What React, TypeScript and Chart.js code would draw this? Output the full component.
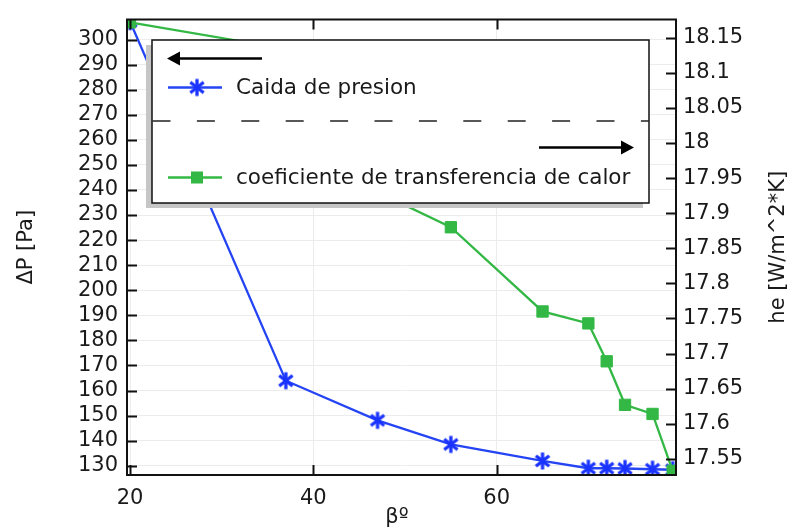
import React, { useEffect, useRef } from 'react';
import { Chart, registerables } from 'chart.js';

Chart.register(...registerables);

// ---- data ----
const betaValues = [20, 37, 47, 55, 65, 70, 72, 74, 77, 79.2];
const pressureDrop = [307.2, 163.9, 148.1, 138.5, 131.9, 129.0, 129.0, 128.9, 128.6, 128.4];
const heCoefficient = [18.172, 18.134, 17.93, 17.88, 17.76, 17.743, 17.689, 17.627, 17.614, 17.533];

const xTicks = [20, 40, 60];
const pressureTicks = [130, 140, 150, 160, 170, 180, 190, 200, 210, 220, 230, 240, 250, 260, 270, 280, 290, 300];
const heTicks = [17.55, 17.6, 17.65, 17.7, 17.75, 17.8, 17.85, 17.9, 17.95, 18, 18.05, 18.1, 18.15];

const xRange = [19.67, 79.56];
const pressureRange = [126.3, 308.0];
const heRange = [17.527, 18.176];

const seriesLabels = ['Caida de presion', 'coeficiente de transferencia de calor'];
const xTitle = 'βº';
const leftTitle = 'ΔP [Pa]';
const rightTitle = 'he [W/m^2*K]';

// ---- styles ----
const FONT_FAMILY = '"DejaVu Sans", Verdana, sans-serif';
const FONT_SIZE = 21;
const LEGEND_FONT_SIZE = 21.5;
const TEXT = '#1a1a1a';
const GRID = '#ececec';
const BLUE = '#2544f4';
const BLUE_MARK = '#1a33ff';
const GREEN = '#33b845';

function makeAsterisk(): HTMLCanvasElement {
  const c = document.createElement('canvas');
  c.width = 20;
  c.height = 20;
  const ctx = c.getContext('2d')!;
  ctx.strokeStyle = BLUE_MARK;
  ctx.lineWidth = 3.3;
  ctx.lineCap = 'butt';
  const cx = 10, cy = 10, r = 8.5;
  const angles = [90, 38, 142];
  for (const a of angles) {
    const rad = (a * Math.PI) / 180;
    ctx.beginPath();
    ctx.moveTo(cx - r * Math.cos(rad), cy - r * Math.sin(rad));
    ctx.lineTo(cx + r * Math.cos(rad), cy + r * Math.sin(rad));
    ctx.stroke();
  }
  return c;
}

export default function App() {
  const ref = useRef<HTMLCanvasElement | null>(null);

  useEffect(() => {
    const canvas = ref.current;
    if (!canvas) return;
    const asterisk = makeAsterisk();
    const font = { family: FONT_FAMILY, size: FONT_SIZE, lineHeight: 1 };

    const framePlugin = {
      id: 'frame',
      afterDatasetsDraw(chart: any) {
        const { ctx, chartArea: a, scales } = chart;
        ctx.save();
        ctx.strokeStyle = '#111';
        ctx.lineWidth = 2;
        ctx.beginPath();
        for (const v of xTicks) {
          const px = Math.round(scales.x.getPixelForValue(v)) + 0.5;
          ctx.moveTo(px, a.bottom);
          ctx.lineTo(px, a.bottom - 10);
          ctx.moveTo(px, a.top);
          ctx.lineTo(px, a.top + 10);
        }
        for (const v of pressureTicks) {
          const py = Math.round(scales.y.getPixelForValue(v)) + 0.5;
          ctx.moveTo(a.left, py);
          ctx.lineTo(a.left + 10, py);
        }
        for (const v of heTicks) {
          const py = Math.round(scales.y1.getPixelForValue(v)) + 0.5;
          ctx.moveTo(a.right, py);
          ctx.lineTo(a.right - 10, py);
        }
        ctx.stroke();
        ctx.lineWidth = 2;
        ctx.strokeRect(a.left, a.top, a.right - a.left, a.bottom - a.top);
        ctx.restore();
      },
    };

    const titlesPlugin = {
      id: 'titles',
      afterDraw(chart: any) {
        const { ctx, chartArea: a } = chart;
        const midY = (a.top + a.bottom) / 2;
        ctx.save();
        ctx.fillStyle = TEXT;
        ctx.font = `${FONT_SIZE}px ${FONT_FAMILY}`;
        ctx.textAlign = 'center';
        ctx.textBaseline = 'middle';
        ctx.save();
        ctx.translate(27, midY);
        ctx.rotate(-Math.PI / 2);
        ctx.fillText(leftTitle, 0, 0);
        ctx.restore();
        ctx.save();
        ctx.translate(779, midY);
        ctx.rotate(-Math.PI / 2);
        ctx.fillText(rightTitle, 0, 0);
        ctx.restore();
        ctx.fillText(xTitle, 397, 518);
        ctx.restore();
      },
    };

    const legendPlugin = {
      id: 'customLegend',
      afterDraw(chart: any) {
        const { ctx } = chart;
        const bx = 152, by = 40, bw = 497, bh = 163;
        ctx.save();
        ctx.fillStyle = '#c6c6c6';
        ctx.fillRect(bx - 6, by + 5, bw, bh);
        ctx.fillStyle = '#ffffff';
        ctx.fillRect(bx, by, bw, bh);
        ctx.strokeStyle = '#111';
        ctx.lineWidth = 1.5;
        ctx.strokeRect(bx, by, bw, bh);

        // left arrow
        ctx.fillStyle = '#000';
        ctx.strokeStyle = '#000';
        ctx.lineWidth = 2.5;
        ctx.beginPath();
        ctx.moveTo(262, 58.5);
        ctx.lineTo(178, 58.5);
        ctx.stroke();
        ctx.beginPath();
        ctx.moveTo(167, 58.5);
        ctx.lineTo(180, 51.5);
        ctx.lineTo(180, 65.5);
        ctx.closePath();
        ctx.fill();

        // blue item
        ctx.strokeStyle = BLUE;
        ctx.lineWidth = 2.3;
        ctx.beginPath();
        ctx.moveTo(168, 87.5);
        ctx.lineTo(222, 87.5);
        ctx.stroke();
        ctx.drawImage(asterisk, 197 - 10, 87.5 - 10);

        ctx.fillStyle = TEXT;
        ctx.font = `${LEGEND_FONT_SIZE}px ${FONT_FAMILY}`;
        ctx.textAlign = 'left';
        ctx.textBaseline = 'middle';
        ctx.fillText(seriesLabels[0], 236, 88);

        // dashed separator
        ctx.strokeStyle = '#222';
        ctx.lineWidth = 1.5;
        ctx.setLineDash([18, 26.4]);
        ctx.beginPath();
        ctx.moveTo(bx + 0.5, 121);
        ctx.lineTo(bx + bw, 121);
        ctx.stroke();
        ctx.setLineDash([]);

        // right arrow
        ctx.fillStyle = '#000';
        ctx.strokeStyle = '#000';
        ctx.lineWidth = 2.5;
        ctx.beginPath();
        ctx.moveTo(539, 147.5);
        ctx.lineTo(622, 147.5);
        ctx.stroke();
        ctx.beginPath();
        ctx.moveTo(634, 147.5);
        ctx.lineTo(621, 140.5);
        ctx.lineTo(621, 154.5);
        ctx.closePath();
        ctx.fill();

        // green item
        ctx.strokeStyle = GREEN;
        ctx.lineWidth = 2.3;
        ctx.beginPath();
        ctx.moveTo(168, 177.5);
        ctx.lineTo(222, 177.5);
        ctx.stroke();
        ctx.fillStyle = GREEN;
        ctx.fillRect(191, 171.5, 12, 12);

        ctx.fillStyle = TEXT;
        ctx.fillText(seriesLabels[1], 236, 178);
        ctx.restore();
      },
    };

    const chart = new Chart(canvas, {
      type: 'line',
      data: {
        datasets: [
          {
            label: seriesLabels[0],
            data: betaValues.map((x, i) => ({ x, y: pressureDrop[i] })),
            yAxisID: 'y',
            borderColor: BLUE,
            backgroundColor: BLUE_MARK,
            borderWidth: 2.3,
            pointStyle: asterisk as any,
            pointRadius: 10,
            pointHoverRadius: 10,
            tension: 0,
            clip: 0 as any,
            order: 2,
          },
          {
            label: seriesLabels[1],
            data: betaValues.map((x, i) => ({ x, y: heCoefficient[i] })),
            yAxisID: 'y1',
            borderColor: GREEN,
            backgroundColor: GREEN,
            pointBackgroundColor: GREEN,
            pointBorderColor: GREEN,
            pointBorderWidth: 1,
            borderWidth: 2.3,
            pointStyle: 'rect',
            pointRadius: 8,
            pointHoverRadius: 8,
            tension: 0,
            clip: 0 as any,
            order: 1,
          },
        ],
      },
      options: {
        animation: false,
        responsive: false,
        maintainAspectRatio: false,
        events: [],
        layout: { padding: { top: 15, left: 0, right: 0, bottom: 0 } },
        plugins: {
          legend: { display: false },
          tooltip: { enabled: false },
          title: { display: false },
        },
        scales: {
          x: {
            type: 'linear',
            position: 'bottom',
            min: xRange[0],
            max: xRange[1],
            afterBuildTicks: (s: any) => {
              s.ticks = xTicks.map((v) => ({ value: v }));
            },
            afterFit: (s: any) => {
              s.height = 53;
            },
            grid: { color: GRID, lineWidth: 1, drawTicks: false },
            border: { display: false },
            ticks: {
              padding: 13,
              autoSkip: false,
              maxRotation: 0,
              color: TEXT,
              font,
              callback: (v: any) => String(v),
            },
          },
          y: {
            type: 'linear',
            position: 'left',
            min: pressureRange[0],
            max: pressureRange[1],
            afterBuildTicks: (s: any) => {
              s.ticks = pressureTicks.map((v) => ({ value: v }));
            },
            afterFit: (s: any) => {
              s.width = 127;
            },
            grid: { color: GRID, lineWidth: 1, drawTicks: false },
            border: { display: false },
            ticks: {
              padding: 9,
              autoSkip: false,
              color: TEXT,
              font,
              callback: (v: any) => String(v),
            },
          },
          y1: {
            type: 'linear',
            position: 'right',
            min: heRange[0],
            max: heRange[1],
            afterBuildTicks: (s: any) => {
              s.ticks = heTicks.map((v) => ({ value: v }));
            },
            afterFit: (s: any) => {
              s.width = 116;
            },
            grid: { display: false, drawTicks: false },
            border: { display: false },
            ticks: {
              padding: 7,
              autoSkip: false,
              color: TEXT,
              font,
              callback: (v: any) => String(Number(Number(v).toFixed(2))),
            },
          },
        },
      },
      plugins: [framePlugin, legendPlugin, titlesPlugin],
    });

    return () => {
      chart.destroy();
    };
  }, []);

  return (
    <div
      style={{
        position: 'fixed',
        left: 0,
        top: 0,
        width: 792,
        height: 528,
        background: '#ffffff',
      }}
    >
      <canvas ref={ref} width={792} height={528} style={{ display: 'block', width: 792, height: 528 }} />
    </div>
  );
}
